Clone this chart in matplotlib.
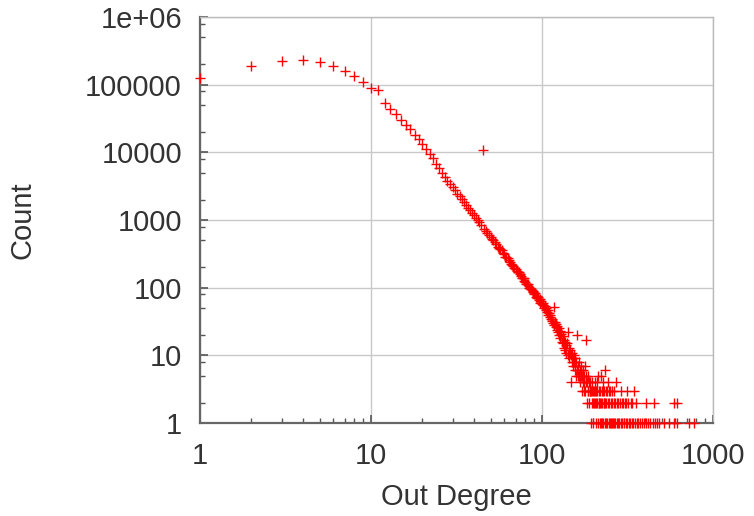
import matplotlib
matplotlib.use("Agg")
import matplotlib.pyplot as plt
from matplotlib.ticker import LogLocator, NullFormatter, FixedLocator

# ---- data (out degree -> count) ----
body_deg = list(range(1, 101))
body_cnt = [124000, 189000, 224000, 234000, 216000, 190000, 159000, 134000, 108000, 90000,
            83000, 54000, 44000, 37000, 30400, 25700, 21900, 18300, 15600, 13100,
            11100, 9600, 8260, 6800, 5820, 4900, 4320, 3830, 3410, 3050,
            2730, 2460, 2230, 2020, 1830, 1670, 1520, 1400, 1280, 1180,
            1085, 1000, 925, 858, 10800, 743, 692, 647, 604, 565,
            530, 505, 468, 440, 405, 391, 369, 360, 329, 312,
            285, 280, 275, 253, 240, 220, 217, 212, 198, 188,
            175, 172, 170, 157, 150, 140, 138, 137, 127, 122,
            112, 112, 112, 99, 100, 96, 93, 88, 86, 80,
            82, 74, 76, 70, 72, 65, 68, 60, 63, 58]

mid_deg = list(range(101, 201))
mid_cnt = [55, 60, 50, 53, 47, 50, 44, 46, 40, 42,
           37, 39, 34, 32, 35, 30, 52, 28, 31, 26,
           29, 24, 27, 22, 25, 20, 23, 18, 21, 22,
           16, 19, 15, 17, 13, 16, 12, 14, 11, 15,
           22, 10, 13, 9, 12, 11, 4, 10, 8, 11,
           9, 7, 10, 8, 6, 9, 7, 5, 8, 20,
           6, 7, 5, 8, 5, 6, 4, 7, 5, 6,
           3, 5, 4, 6, 3, 5, 4, 3, 7, 17,
           4, 5, 2, 4, 3, 5, 3, 4, 2, 3,
           4, 3, 1, 3, 4, 2, 3, 1, 3, 2]

tail_deg = [234, 213, 220, 203, 209, 227, 244, 270,
            201, 205, 207, 211, 215, 218, 223, 226, 230, 236, 240, 246, 250, 255, 262, 290, 313, 344,
            202, 204, 208, 210, 214, 216, 219, 222, 225, 229, 232, 235, 238, 242, 248, 253, 258, 263,
            267, 275, 280, 286, 292, 298, 305, 311, 320, 330, 338, 353, 404, 450, 588, 612,
            206, 212, 217, 221, 224, 228, 233, 237, 241, 245, 249, 252, 256, 260, 265, 268, 273, 278,
            283, 288, 295, 301, 308, 316, 322, 327, 335, 342, 350, 358, 366, 375, 384, 395, 405, 418,
            430, 445, 460, 472, 484, 518, 550, 588, 612, 720, 770]
tail_cnt = [6, 5, 5, 4, 4, 4, 4, 4,
            3, 3, 3, 3, 3, 3, 3, 3, 3, 3, 3, 3, 3, 3, 3, 3, 3, 3,
            2, 2, 2, 2, 2, 2, 2, 2, 2, 2, 2, 2, 2, 2, 2, 2, 2, 2,
            2, 2, 2, 2, 2, 2, 2, 2, 2, 2, 2, 2, 2, 2, 2, 2,
            1, 1, 1, 1, 1, 1, 1, 1, 1, 1, 1, 1, 1, 1, 1, 1, 1, 1,
            1, 1, 1, 1, 1, 1, 1, 1, 1, 1, 1, 1, 1, 1, 1, 1, 1, 1,
            1, 1, 1, 1, 1, 1, 1, 1, 1, 1, 1]

x_ticks = [1, 10, 100, 1000]
x_labels = ["1", "10", "100", "1000"]
y_ticks = [1, 10, 100, 1000, 10000, 100000, 1000000]
y_labels = ["1", "10", "100", "1000", "10000", "100000", "1e+06"]

FONT = "Liberation Sans"
TXT = "#333333"
FS = 21

W, H = 754, 516
fig = plt.figure(figsize=(W / 100, H / 100), dpi=100)
ax = fig.add_axes([200 / W, 93 / H, 513 / W, 406 / H])
ax.set_xscale("log")
ax.set_yscale("log")
ax.set_xlim(1, 1000)
ax.set_ylim(1, 1e6)

ax.grid(True, which="major", color="#c8c8c8", linewidth=1.0, zorder=0)
ax.set_axisbelow(True)

ax.xaxis.set_major_locator(FixedLocator(x_ticks))
ax.set_xticklabels(x_labels)
ax.yaxis.set_major_locator(FixedLocator(y_ticks))
ax.set_yticklabels(y_labels)
ax.xaxis.set_minor_locator(LogLocator(base=10, subs=[2, 3, 4, 5, 6, 7, 8, 9], numticks=20))
ax.yaxis.set_minor_locator(LogLocator(base=10, subs=[2, 5, 8], numticks=20))
ax.xaxis.set_minor_formatter(NullFormatter())
ax.yaxis.set_minor_formatter(NullFormatter())

ax.tick_params(which="both", direction="in", top=False, right=False, color="#555555")
ax.tick_params(which="major", length=6, width=1.2)
ax.tick_params(which="minor", length=3.5, width=1.0)
ax.tick_params(axis="x", which="major", pad=14)
ax.tick_params(axis="y", which="major", pad=13)
for lab in ax.get_xticklabels() + ax.get_yticklabels():
    lab.set_fontfamily(FONT)
    lab.set_fontsize(FS)
    lab.set_color(TXT)

for side in ["left", "bottom"]:
    ax.spines[side].set_color("#666666")
    ax.spines[side].set_linewidth(1.6)
for side in ["top", "right"]:
    ax.spines[side].set_color("#bbbbbb")
    ax.spines[side].set_linewidth(1.0)

for d, c in [(body_deg, body_cnt), (mid_deg, mid_cnt), (tail_deg, tail_cnt)]:
    ax.plot(d, c, linestyle="none", marker="+", color="#ff0000", markersize=7,
            markeredgewidth=1.0, clip_on=False, zorder=5)

fig.text(456.5 / W, 1 - 497 / H, "Out Degree", ha="center", va="center",
         fontsize=FS, family=FONT, color=TXT)
fig.text(22 / W, 1 - 220 / H, "Count", ha="center", va="center", rotation=90,
         fontsize=FS, family=FONT, color=TXT)

fig.savefig("out.png", dpi=100)
